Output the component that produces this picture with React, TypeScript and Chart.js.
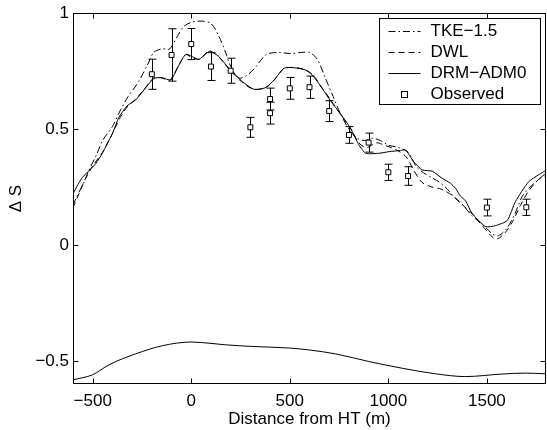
import React, { useEffect, useRef } from "react";
import { Chart, registerables } from "chart.js";

Chart.register(...registerables);

const xTicks = [-500, 0, 500, 1000, 1500];
const yTicks = [-0.5, 0, 0.5, 1];

const tkeX = [-600, -580, -550, -520, -480, -450, -400, -360, -320, -270, -220, -190, -150, -110, -70, -40, 0, 50, 100, 140, 170, 200, 240, 280, 320, 380, 440, 500, 560, 600, 640, 680, 720, 760, 800, 840, 880, 920, 960, 1000, 1050, 1100, 1140, 1180, 1220, 1260, 1300, 1340, 1380, 1420, 1460, 1500, 1530, 1560, 1600, 1640, 1680, 1720, 1760, 1800];
const tkeY = [0.17, 0.21, 0.26, 0.32, 0.39, 0.45, 0.51, 0.58, 0.64, 0.70, 0.78, 0.83, 0.845, 0.845, 0.90, 0.94, 0.96, 0.965, 0.955, 0.90, 0.84, 0.77, 0.72, 0.73, 0.76, 0.82, 0.83, 0.825, 0.83, 0.83, 0.80, 0.72, 0.64, 0.56, 0.50, 0.46, 0.45, 0.46, 0.45, 0.43, 0.42, 0.40, 0.34, 0.31, 0.29, 0.27, 0.24, 0.20, 0.17, 0.13, 0.10, 0.07, 0.045, 0.04, 0.07, 0.13, 0.21, 0.25, 0.28, 0.31];

const dwlX = [-600, -570, -540, -500, -450, -400, -360, -320, -280, -240, -190, -150, -110, -60, -30, 0, 40, 90, 140, 190, 260, 320, 380, 420, 470, 520, 580, 620, 670, 720, 760, 810, 850, 890, 940, 980, 1040, 1090, 1130, 1170, 1220, 1270, 1330, 1380, 1430, 1480, 1520, 1550, 1590, 1630, 1670, 1710, 1760, 1800];
const dwlY = [0.16, 0.22, 0.28, 0.34, 0.40, 0.48, 0.55, 0.60, 0.63, 0.67, 0.72, 0.72, 0.71, 0.78, 0.82, 0.81, 0.80, 0.835, 0.81, 0.76, 0.70, 0.67, 0.68, 0.71, 0.76, 0.765, 0.755, 0.73, 0.67, 0.61, 0.56, 0.50, 0.44, 0.42, 0.44, 0.43, 0.41, 0.38, 0.32, 0.27, 0.25, 0.24, 0.21, 0.17, 0.13, 0.08, 0.04, 0.025, 0.05, 0.10, 0.17, 0.23, 0.28, 0.30];

const drmX = [-600, -575, -553, -519, -485, -451, -430, -400, -367, -325, -282, -240, -189, -147, -104, -62, -28, 5, 39, 81, 98, 140, 191, 260, 318, 377, 420, 471, 521, 580, 614, 664, 715, 749, 808, 851, 885, 952, 1003, 1062, 1087, 1129, 1172, 1222, 1273, 1315, 1341, 1366, 1392, 1425, 1493, 1544, 1603, 1645, 1713, 1789, 1800];
const drmY = [0.22, 0.26, 0.29, 0.32, 0.35, 0.395, 0.43, 0.48, 0.55, 0.60, 0.625, 0.668, 0.718, 0.721, 0.711, 0.776, 0.822, 0.812, 0.80, 0.829, 0.836, 0.812, 0.762, 0.704, 0.671, 0.678, 0.711, 0.762, 0.764, 0.754, 0.733, 0.675, 0.611, 0.575, 0.503, 0.431, 0.395, 0.395, 0.402, 0.407, 0.409, 0.359, 0.323, 0.318, 0.287, 0.266, 0.244, 0.21, 0.19, 0.136, 0.079, 0.083, 0.105, 0.187, 0.273, 0.316, 0.32];

const profileX = [-600, -500, -417, -282, -147, 0, 90, 174, 309, 499, 597, 732, 901, 1070, 1239, 1391, 1577, 1696, 1800];
const profileY = [-0.582, -0.56, -0.517, -0.47, -0.435, -0.419, -0.424, -0.431, -0.438, -0.445, -0.453, -0.47, -0.503, -0.532, -0.556, -0.568, -0.557, -0.553, -0.556];

const obsX = [-200, -100, 0, 100, 200, 300, 400, 400, 500, 600, 700, 800, 900, 1000, 1100, 1500, 1700];
const obsY = [0.736, 0.819, 0.866, 0.769, 0.751, 0.507, 0.629, 0.568, 0.675, 0.68, 0.577, 0.474, 0.441, 0.313, 0.297, 0.161, 0.162];
const obsErr = [0.065, 0.113, 0.067, 0.06, 0.054, 0.043, 0.047, 0.047, 0.047, 0.048, 0.045, 0.036, 0.041, 0.035, 0.04, 0.036, 0.035];

const FONT = '"Liberation Sans", Arial, sans-serif';
const FS = 17;

const fmt = (v: number) => (v < 0 ? "\u2212" + Math.abs(v) : String(v));
const pts = (xs: number[], ys: number[]) => xs.map((x, i) => ({ x, y: ys[i] }));

const DASH_TKE = [7, 3, 1.5, 3];
const DASH_DWL = [6, 4];

const framePlugin = {
  id: "frame",
  beforeDatasetsDraw(chart: any) {
    const { ctx, scales } = chart;
    const xs = scales.x, ys = scales.y;
    ctx.save();
    ctx.strokeStyle = "#000";
    ctx.lineWidth = 1;
    obsX.forEach((xv, i) => {
      const px = Math.round(xs.getPixelForValue(xv)) + 0.5;
      const top = ys.getPixelForValue(obsY[i] + obsErr[i]);
      const bot = ys.getPixelForValue(obsY[i] - obsErr[i]);
      ctx.beginPath();
      ctx.moveTo(px, top);
      ctx.lineTo(px, bot);
      ctx.moveTo(px - 4, top);
      ctx.lineTo(px + 4, top);
      ctx.moveTo(px - 4, bot);
      ctx.lineTo(px + 4, bot);
      ctx.stroke();
    });
    ctx.restore();
  },
  afterDraw(chart: any) {
    const { ctx, chartArea: a, scales } = chart;
    const xs = scales.x, ys = scales.y;
    ctx.save();
    ctx.strokeStyle = "#000";
    ctx.lineWidth = 1;
    const L = Math.round(a.left) + 0.5, R = Math.round(a.right) - 0.5;
    const T = Math.round(a.top) + 0.5, B = Math.round(a.bottom) - 0.5;
    ctx.strokeRect(L, T, R - L, B - T);
    ctx.beginPath();
    xTicks.forEach((v) => {
      const p = Math.round(xs.getPixelForValue(v)) + 0.5;
      ctx.moveTo(p, B); ctx.lineTo(p, B - 5);
      ctx.moveTo(p, T); ctx.lineTo(p, T + 5);
    });
    yTicks.forEach((v) => {
      const p = Math.round(ys.getPixelForValue(v)) + 0.5;
      ctx.moveTo(L, p); ctx.lineTo(L + 5, p);
      ctx.moveTo(R, p); ctx.lineTo(R - 5, p);
    });
    ctx.stroke();

    // legend
    const bw = 161, bh = 86;
    const bx = Math.round(a.right) - 6 - bw + 0.5;
    const by = Math.round(a.top) + 5 + 0.5;
    ctx.fillStyle = "#fff";
    ctx.fillRect(bx, by, bw, bh);
    ctx.strokeRect(bx, by, bw, bh);
    const items = [
      { label: "TKE\u22121.5", dash: DASH_TKE, kind: "line" },
      { label: "DWL", dash: DASH_DWL, kind: "line" },
      { label: "DRM\u2212ADM0", dash: [], kind: "line" },
      { label: "Observed", dash: [], kind: "mark" },
    ];
    ctx.font = `${FS}px ${FONT}`;
    ctx.textBaseline = "middle";
    ctx.fillStyle = "#000";
    items.forEach((it, i) => {
      const cy = by + 12 + i * 21;
      if (it.kind === "line") {
        ctx.setLineDash(it.dash);
        ctx.beginPath();
        ctx.moveTo(bx + 9, Math.round(cy) + 0.5);
        ctx.lineTo(bx + 41, Math.round(cy) + 0.5);
        ctx.stroke();
        ctx.setLineDash([]);
      } else {
        ctx.strokeRect(bx + 22, Math.round(cy) - 3 + 0.5, 6, 6);
      }
      ctx.fillText(it.label, bx + 51, cy + 1);
    });
    ctx.restore();
  },
};

export default function App() {
  const ref = useRef<HTMLCanvasElement>(null);
  useEffect(() => {
    if (!ref.current) return;
    const chart = new Chart(ref.current, {
      type: "line",
      data: {
        datasets: [
          {
            label: "Observed",
            data: pts(obsX, obsY),
            showLine: false,
            pointStyle: "rect",
            pointRadius: 3.5,
            pointBorderWidth: 1,
            pointBorderColor: "#000",
            pointBackgroundColor: "#fff",
            borderColor: "#000",
          },
          {
            label: "TKE\u22121.5",
            data: pts(tkeX, tkeY),
            borderColor: "#000",
            borderWidth: 1,
            borderDash: DASH_TKE,
            pointRadius: 0,
            tension: 0.3,
          },
          {
            label: "DWL",
            data: pts(dwlX, dwlY),
            borderColor: "#000",
            borderWidth: 1,
            borderDash: DASH_DWL,
            pointRadius: 0,
            tension: 0.3,
          },
          {
            label: "DRM\u2212ADM0",
            data: pts(drmX, drmY),
            borderColor: "#000",
            borderWidth: 1,
            pointRadius: 0,
            tension: 0.2,
          },
          {
            label: "profile",
            data: pts(profileX, profileY),
            borderColor: "#000",
            borderWidth: 1,
            pointRadius: 0,
            cubicInterpolationMode: "monotone",
          },
        ],
      },
      options: {
        animation: false,
        responsive: false,
        events: [],
        layout: { autoPadding: false, padding: { top: 13, right: 1, left: 0, bottom: 0 } },
        plugins: { legend: { display: false }, tooltip: { enabled: false } },
        scales: {
          x: {
            type: "linear",
            min: -600,
            max: 1800,
            grid: { display: false, drawTicks: false },
            border: { display: false },
            afterBuildTicks: (s: any) => { s.ticks = xTicks.map((v) => ({ value: v })); },
            afterFit: (s: any) => {
              s.height = 46;
              s.paddingLeft = 0; s.paddingRight = 0; s.paddingTop = 0; s.paddingBottom = 0;
            },
            ticks: {
              color: "#000",
              font: { family: FONT, size: FS },
              padding: 7,
              maxRotation: 0,
              autoSkip: false,
              callback: (v: any) => fmt(Number(v)),
            },
            title: {
              display: true,
              text: "Distance from HT (m)",
              color: "#000",
              font: { family: FONT, size: FS },
              padding: { top: -2, bottom: 0 },
            },
          },
          y: {
            type: "linear",
            min: -0.6,
            max: 1,
            grid: { display: false, drawTicks: false },
            border: { display: false },
            afterBuildTicks: (s: any) => { s.ticks = yTicks.map((v) => ({ value: v })); },
            afterFit: (s: any) => {
              s.width = 73;
              s.paddingLeft = 0; s.paddingRight = 0; s.paddingTop = 0; s.paddingBottom = 0;
            },
            ticks: {
              color: "#000",
              font: { family: FONT, size: FS },
              padding: 4,
              autoSkip: false,
              callback: (v: any) => fmt(Number(v)),
            },
            title: {
              display: true,
              text: "\u0394 S",
              color: "#000",
              font: { family: FONT, size: FS },
              padding: { top: 6, bottom: 0 },
            },
          },
        },
      },
      plugins: [framePlugin],
    } as any);
    return () => chart.destroy();
  }, []);
  return (
    <div style={{ position: "absolute", left: 0, top: 0, width: 547, height: 430, background: "#fff" }}>
      <canvas ref={ref} width={547} height={430} style={{ display: "block" }} />
    </div>
  );
}
